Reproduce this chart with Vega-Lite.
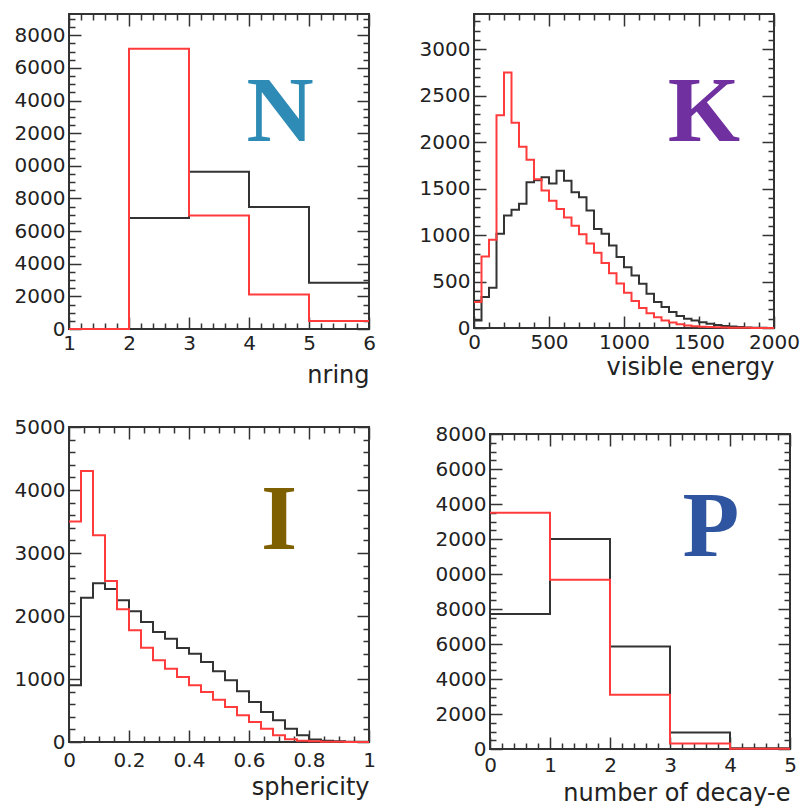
{
  "$schema": "https://vega.github.io/schema/vega-lite/v6.json",
  "padding": {"left": 13, "top": 7, "right": 0, "bottom": 0},
  "background": "white",
  "columns": 2,
  "align": "none",
  "spacing": {"row": 28, "column": 41},
  "config": {
    "view": {"stroke": "#333", "strokeWidth": 2},
    "axis": {
      "labelFont": "DejaVu Sans", "labelFontSize": 20, "labelColor": "#222",
      "titleFont": "DejaVu Sans", "titleFontSize": 24, "titleFontWeight": "normal", "titleColor": "#222",
      "tickColor": "#333", "tickWidth": 1.5, "domain": false, "grid": false,
      "labelFlush": false, "labelOverlap": false
    },
    "line": {"strokeWidth": 2, "interpolate": "step-after"}
  },
  "concat": [
    {
      "width": 300, "height": 315,
      "layer": [
        {
          "data": {"values": [
            {"x": 1, "v": 0, "s": "black"}, {"x": 2, "v": 6800, "s": "black"}, {"x": 3, "v": 9630, "s": "black"}, {"x": 4, "v": 7470, "s": "black"}, {"x": 5, "v": 2840, "s": "black"}, {"x": 6, "v": 2840, "s": "black"},
            {"x": 1, "v": 0, "s": "red"}, {"x": 2, "v": 17170, "s": "red"}, {"x": 3, "v": 6960, "s": "red"}, {"x": 4, "v": 2120, "s": "red"}, {"x": 5, "v": 490, "s": "red"}, {"x": 6, "v": 490, "s": "red"}
          ]},
          "mark": {"type": "line"},
          "encoding": {
            "x": {"field": "x", "type": "quantitative", "scale": {"domain": [1, 6], "nice": false, "zero": false},
              "axis": {"orient": "bottom", "title": "nring", "titleAnchor": "end", "titlePadding": 4,
                "values": [1,1.2,1.4,1.6,1.8,2,2.2,2.4,2.6,2.8,3,3.2,3.4,3.6,3.8,4,4.2,4.4,4.6,4.8,5,5.2,5.4,5.6,5.8,6],
                "labelExpr": "indexof([1,2,3,4,5,6], datum.value) >= 0 ? toString(datum.value) : ''",
                "tickSize": {"condition": {"test": "indexof([1,2,3,4,5,6], datum.value) >= 0", "value": -12}, "value": -6},
                "labelPadding": 16}},
            "y": {"field": "v", "type": "quantitative", "scale": {"domain": [0, 19300], "nice": false},
              "axis": {"orient": "left", "title": null,
                "values": [0,500,1000,1500,2000,2500,3000,3500,4000,4500,5000,5500,6000,6500,7000,7500,8000,8500,9000,9500,10000,10500,11000,11500,12000,12500,13000,13500,14000,14500,15000,15500,16000,16500,17000,17500,18000,18500,19000],
                "labelExpr": "datum.value % 2000 === 0 ? (datum.value >= 10000 ? slice(toString(datum.value), 1) : toString(datum.value)) : ''",
                "tickSize": {"condition": {"test": "datum.value % 2000 === 0", "value": -12}, "value": -6},
                "labelPadding": 16}},
            "color": {"field": "s", "type": "nominal", "scale": {"domain": ["black", "red"], "range": ["#333333", "#ff3b3b"]}, "legend": null}
          }
        },
        {
          "data": {"values": [{"x": 4.52, "v": 11500, "t": "N"}]},
          "mark": {"type": "text", "font": "Liberation Serif", "fontWeight": "bold", "fontSize": 93, "color": "#2E8BB5", "align": "center", "baseline": "alphabetic"},
          "encoding": {
            "x": {"field": "x", "type": "quantitative", "scale": {"domain": [1, 6], "nice": false, "zero": false},
              "axis": {"orient": "top", "title": null, "labels": false,
                "values": [1,1.2,1.4,1.6,1.8,2,2.2,2.4,2.6,2.8,3,3.2,3.4,3.6,3.8,4,4.2,4.4,4.6,4.8,5,5.2,5.4,5.6,5.8,6],
                "tickSize": {"condition": {"test": "indexof([1,2,3,4,5,6], datum.value) >= 0", "value": -12}, "value": -6}}},
            "y": {"field": "v", "type": "quantitative", "scale": {"domain": [0, 19300], "nice": false},
              "axis": {"orient": "right", "title": null, "labels": false,
                "values": [0,500,1000,1500,2000,2500,3000,3500,4000,4500,5000,5500,6000,6500,7000,7500,8000,8500,9000,9500,10000,10500,11000,11500,12000,12500,13000,13500,14000,14500,15000,15500,16000,16500,17000,17500,18000,18500,19000],
                "tickSize": {"condition": {"test": "datum.value % 2000 === 0", "value": -12}, "value": -6}}},
            "text": {"field": "t"}
          }
        }
      ],
      "resolve": {"axis": {"x": "independent", "y": "independent"}}
    },
    {
      "width": 300, "height": 314,
      "layer": [
        {
          "data": {"values": [
            {"x": 0, "v": 80, "s": "black"}, {"x": 50, "v": 333, "s": "black"}, {"x": 100, "v": 434, "s": "black"}, {"x": 150, "v": 1014, "s": "black"}, {"x": 200, "v": 1210, "s": "black"}, {"x": 250, "v": 1273, "s": "black"}, {"x": 300, "v": 1337, "s": "black"}, {"x": 350, "v": 1568, "s": "black"}, {"x": 400, "v": 1590, "s": "black"}, {"x": 450, "v": 1622, "s": "black"},
            {"x": 500, "v": 1555, "s": "black"}, {"x": 550, "v": 1694, "s": "black"}, {"x": 600, "v": 1586, "s": "black"}, {"x": 650, "v": 1461, "s": "black"}, {"x": 700, "v": 1407, "s": "black"}, {"x": 750, "v": 1264, "s": "black"}, {"x": 800, "v": 1067, "s": "black"}, {"x": 850, "v": 1014, "s": "black"}, {"x": 900, "v": 888, "s": "black"}, {"x": 950, "v": 763, "s": "black"},
            {"x": 1000, "v": 655, "s": "black"}, {"x": 1050, "v": 566, "s": "black"}, {"x": 1100, "v": 477, "s": "black"}, {"x": 1150, "v": 369, "s": "black"}, {"x": 1200, "v": 279, "s": "black"}, {"x": 1250, "v": 226, "s": "black"}, {"x": 1300, "v": 172, "s": "black"}, {"x": 1350, "v": 130, "s": "black"}, {"x": 1400, "v": 100, "s": "black"}, {"x": 1450, "v": 80, "s": "black"},
            {"x": 1500, "v": 62, "s": "black"}, {"x": 1550, "v": 45, "s": "black"}, {"x": 1600, "v": 32, "s": "black"}, {"x": 1650, "v": 22, "s": "black"}, {"x": 1700, "v": 15, "s": "black"}, {"x": 1750, "v": 10, "s": "black"}, {"x": 1800, "v": 6, "s": "black"}, {"x": 1850, "v": 4, "s": "black"}, {"x": 1900, "v": 2, "s": "black"}, {"x": 1950, "v": 1, "s": "black"}, {"x": 2000, "v": 1, "s": "black"},
            {"x": 0, "v": 280, "s": "red"}, {"x": 50, "v": 770, "s": "red"}, {"x": 100, "v": 950, "s": "red"}, {"x": 150, "v": 2290, "s": "red"}, {"x": 200, "v": 2750, "s": "red"}, {"x": 250, "v": 2210, "s": "red"}, {"x": 300, "v": 1950, "s": "red"}, {"x": 350, "v": 1810, "s": "red"}, {"x": 400, "v": 1600, "s": "red"}, {"x": 450, "v": 1480, "s": "red"},
            {"x": 500, "v": 1370, "s": "red"}, {"x": 550, "v": 1280, "s": "red"}, {"x": 600, "v": 1190, "s": "red"}, {"x": 650, "v": 1100, "s": "red"}, {"x": 700, "v": 1010, "s": "red"}, {"x": 750, "v": 910, "s": "red"}, {"x": 800, "v": 810, "s": "red"}, {"x": 850, "v": 700, "s": "red"}, {"x": 900, "v": 590, "s": "red"}, {"x": 950, "v": 480, "s": "red"},
            {"x": 1000, "v": 380, "s": "red"}, {"x": 1050, "v": 290, "s": "red"}, {"x": 1100, "v": 215, "s": "red"}, {"x": 1150, "v": 160, "s": "red"}, {"x": 1200, "v": 115, "s": "red"}, {"x": 1250, "v": 82, "s": "red"}, {"x": 1300, "v": 58, "s": "red"}, {"x": 1350, "v": 40, "s": "red"}, {"x": 1400, "v": 28, "s": "red"}, {"x": 1450, "v": 20, "s": "red"},
            {"x": 1500, "v": 14, "s": "red"}, {"x": 1550, "v": 10, "s": "red"}, {"x": 1600, "v": 7, "s": "red"}, {"x": 1650, "v": 5, "s": "red"}, {"x": 1700, "v": 4, "s": "red"}, {"x": 1750, "v": 3, "s": "red"}, {"x": 1800, "v": 2, "s": "red"}, {"x": 1850, "v": 1, "s": "red"}, {"x": 1900, "v": 1, "s": "red"}, {"x": 1950, "v": 1, "s": "red"}, {"x": 2000, "v": 1, "s": "red"}
          ]},
          "mark": {"type": "line"},
          "encoding": {
            "x": {"field": "x", "type": "quantitative", "scale": {"domain": [0, 2000], "nice": false},
              "axis": {"orient": "bottom", "title": "visible energy", "titleAnchor": "end", "titlePadding": -3,
                "values": [0,100,200,300,400,500,600,700,800,900,1000,1100,1200,1300,1400,1500,1600,1700,1800,1900,2000],
                "labelExpr": "datum.value % 500 === 0 ? toString(datum.value) : ''",
                "tickSize": {"condition": {"test": "datum.value % 500 === 0", "value": -12}, "value": -6},
                "labelPadding": 16}},
            "y": {"field": "v", "type": "quantitative", "scale": {"domain": [0, 3380], "nice": false},
              "axis": {"orient": "left", "title": null,
                "values": [0,100,200,300,400,500,600,700,800,900,1000,1100,1200,1300,1400,1500,1600,1700,1800,1900,2000,2100,2200,2300,2400,2500,2600,2700,2800,2900,3000,3100,3200,3300],
                "labelExpr": "datum.value % 500 === 0 ? toString(datum.value) : ''",
                "tickSize": {"condition": {"test": "datum.value % 500 === 0", "value": -12}, "value": -6},
                "labelPadding": 16}},
            "color": {"field": "s", "type": "nominal", "scale": {"domain": ["black", "red"], "range": ["#333333", "#ff3b3b"]}, "legend": null}
          }
        },
        {
          "data": {"values": [{"x": 1533, "v": 2012, "t": "K"}]},
          "mark": {"type": "text", "font": "Liberation Serif", "fontWeight": "bold", "fontSize": 93, "color": "#7030A0", "align": "center", "baseline": "alphabetic"},
          "encoding": {
            "x": {"field": "x", "type": "quantitative", "scale": {"domain": [0, 2000], "nice": false},
              "axis": {"orient": "top", "title": null, "labels": false,
                "values": [0,100,200,300,400,500,600,700,800,900,1000,1100,1200,1300,1400,1500,1600,1700,1800,1900,2000],
                "tickSize": {"condition": {"test": "datum.value % 500 === 0", "value": -12}, "value": -6}}},
            "y": {"field": "v", "type": "quantitative", "scale": {"domain": [0, 3380], "nice": false},
              "axis": {"orient": "right", "title": null, "labels": false,
                "values": [0,100,200,300,400,500,600,700,800,900,1000,1100,1200,1300,1400,1500,1600,1700,1800,1900,2000,2100,2200,2300,2400,2500,2600,2700,2800,2900,3000,3100,3200,3300],
                "tickSize": {"condition": {"test": "datum.value % 500 === 0", "value": -12}, "value": -6}}},
            "text": {"field": "t"}
          }
        }
      ],
      "resolve": {"axis": {"x": "independent", "y": "independent"}}
    },
    {
      "width": 300, "height": 315,
      "layer": [
        {
          "data": {"values": [
            {"x": 0, "v": 900, "s": "black"}, {"x": 0.04, "v": 2290, "s": "black"}, {"x": 0.08, "v": 2520, "s": "black"}, {"x": 0.12, "v": 2430, "s": "black"}, {"x": 0.16, "v": 2250, "s": "black"}, {"x": 0.2, "v": 2074, "s": "black"}, {"x": 0.24, "v": 1905, "s": "black"}, {"x": 0.28, "v": 1746, "s": "black"}, {"x": 0.32, "v": 1640, "s": "black"}, {"x": 0.36, "v": 1492, "s": "black"},
            {"x": 0.4, "v": 1402, "s": "black"}, {"x": 0.44, "v": 1270, "s": "black"}, {"x": 0.48, "v": 1122, "s": "black"}, {"x": 0.52, "v": 979, "s": "black"}, {"x": 0.56, "v": 804, "s": "black"}, {"x": 0.6, "v": 635, "s": "black"}, {"x": 0.64, "v": 476, "s": "black"}, {"x": 0.68, "v": 344, "s": "black"}, {"x": 0.72, "v": 212, "s": "black"}, {"x": 0.76, "v": 106, "s": "black"},
            {"x": 0.8, "v": 40, "s": "black"}, {"x": 0.84, "v": 20, "s": "black"}, {"x": 0.88, "v": 10, "s": "black"}, {"x": 0.92, "v": 5, "s": "black"}, {"x": 0.96, "v": 2, "s": "black"}, {"x": 1, "v": 2, "s": "black"},
            {"x": 0, "v": 3500, "s": "red"}, {"x": 0.04, "v": 4300, "s": "red"}, {"x": 0.08, "v": 3280, "s": "red"}, {"x": 0.12, "v": 2556, "s": "red"}, {"x": 0.16, "v": 2106, "s": "red"}, {"x": 0.2, "v": 1772, "s": "red"}, {"x": 0.24, "v": 1497, "s": "red"}, {"x": 0.28, "v": 1296, "s": "red"}, {"x": 0.32, "v": 1164, "s": "red"}, {"x": 0.36, "v": 1032, "s": "red"},
            {"x": 0.4, "v": 899, "s": "red"}, {"x": 0.44, "v": 794, "s": "red"}, {"x": 0.48, "v": 672, "s": "red"}, {"x": 0.52, "v": 556, "s": "red"}, {"x": 0.56, "v": 423, "s": "red"}, {"x": 0.6, "v": 317, "s": "red"}, {"x": 0.64, "v": 212, "s": "red"}, {"x": 0.68, "v": 106, "s": "red"}, {"x": 0.72, "v": 42, "s": "red"}, {"x": 0.76, "v": 20, "s": "red"},
            {"x": 0.8, "v": 10, "s": "red"}, {"x": 0.84, "v": 5, "s": "red"}, {"x": 0.88, "v": 3, "s": "red"}, {"x": 0.92, "v": 1, "s": "red"}, {"x": 0.96, "v": 1, "s": "red"}, {"x": 1, "v": 1, "s": "red"}
          ]},
          "mark": {"type": "line"},
          "encoding": {
            "x": {"field": "x", "type": "quantitative", "scale": {"domain": [0, 1], "nice": false},
              "axis": {"orient": "bottom", "title": "sphericity", "titleAnchor": "end", "titlePadding": -1,
                "values": [0,0.05,0.1,0.15,0.2,0.25,0.3,0.35,0.4,0.45,0.5,0.55,0.6,0.65,0.7,0.75,0.8,0.85,0.9,0.95,1],
                "labelExpr": "indexof([0,0.2,0.4,0.6,0.8,1], datum.value) >= 0 ? toString(datum.value) : ''",
                "tickSize": {"condition": {"test": "indexof([0,0.2,0.4,0.6,0.8,1], datum.value) >= 0", "value": -12}, "value": -6},
                "labelPadding": 20}},
            "y": {"field": "v", "type": "quantitative", "scale": {"domain": [0, 5000], "nice": false},
              "axis": {"orient": "left", "title": null,
                "values": [0,200,400,600,800,1000,1200,1400,1600,1800,2000,2200,2400,2600,2800,3000,3200,3400,3600,3800,4000,4200,4400,4600,4800,5000],
                "labelExpr": "datum.value % 1000 === 0 ? toString(datum.value) : ''",
                "tickSize": {"condition": {"test": "datum.value % 1000 === 0", "value": -12}, "value": -6},
                "labelPadding": 16}},
            "color": {"field": "s", "type": "nominal", "scale": {"domain": ["black", "red"], "range": ["#333333", "#ff3b3b"]}, "legend": null}
          }
        },
        {
          "data": {"values": [{"x": 0.7, "v": 3063, "t": "I"}]},
          "mark": {"type": "text", "font": "Liberation Serif", "fontWeight": "bold", "fontSize": 93, "color": "#7F6000", "align": "center", "baseline": "alphabetic"},
          "encoding": {
            "x": {"field": "x", "type": "quantitative", "scale": {"domain": [0, 1], "nice": false},
              "axis": {"orient": "top", "title": null, "labels": false,
                "values": [0,0.05,0.1,0.15,0.2,0.25,0.3,0.35,0.4,0.45,0.5,0.55,0.6,0.65,0.7,0.75,0.8,0.85,0.9,0.95,1],
                "tickSize": {"condition": {"test": "indexof([0,0.2,0.4,0.6,0.8,1], datum.value) >= 0", "value": -12}, "value": -6}}},
            "y": {"field": "v", "type": "quantitative", "scale": {"domain": [0, 5000], "nice": false},
              "axis": {"orient": "right", "title": null, "labels": false,
                "values": [0,200,400,600,800,1000,1200,1400,1600,1800,2000,2200,2400,2600,2800,3000,3200,3400,3600,3800,4000,4200,4400,4600,4800,5000],
                "tickSize": {"condition": {"test": "datum.value % 1000 === 0", "value": -12}, "value": -6}}},
            "text": {"field": "t"}
          }
        }
      ],
      "resolve": {"axis": {"x": "independent", "y": "independent"}}
    },
    {
      "width": 300, "height": 315,
      "title": {"text": "P", "color": "transparent", "fontSize": 7, "offset": 0},
      "layer": [
        {
          "data": {"values": [
            {"x": 0, "v": 7710, "s": "black"}, {"x": 1, "v": 12000, "s": "black"}, {"x": 2, "v": 5860, "s": "black"}, {"x": 3, "v": 950, "s": "black"}, {"x": 4, "v": 40, "s": "black"}, {"x": 5, "v": 40, "s": "black"},
            {"x": 0, "v": 13500, "s": "red"}, {"x": 1, "v": 9670, "s": "red"}, {"x": 2, "v": 3100, "s": "red"}, {"x": 3, "v": 320, "s": "red"}, {"x": 4, "v": 20, "s": "red"}, {"x": 5, "v": 20, "s": "red"}
          ]},
          "mark": {"type": "line"},
          "encoding": {
            "x": {"field": "x", "type": "quantitative", "scale": {"domain": [0, 5], "nice": false},
              "axis": {"orient": "bottom", "title": "number of decay-e", "titleAnchor": "end", "titlePadding": 0,
                "values": [0,0.2,0.4,0.6,0.8,1,1.2,1.4,1.6,1.8,2,2.2,2.4,2.6,2.8,3,3.2,3.4,3.6,3.8,4,4.2,4.4,4.6,4.8,5],
                "labelExpr": "indexof([0,1,2,3,4,5], datum.value) >= 0 ? toString(datum.value) : ''",
                "tickSize": {"condition": {"test": "indexof([0,1,2,3,4,5], datum.value) >= 0", "value": -12}, "value": -6},
                "labelPadding": 18}},
            "y": {"field": "v", "type": "quantitative", "scale": {"domain": [0, 18000], "nice": false},
              "axis": {"orient": "left", "title": "y", "titleColor": "transparent", "titleFontSize": 10, "titlePadding": 6,
                "values": [0,500,1000,1500,2000,2500,3000,3500,4000,4500,5000,5500,6000,6500,7000,7500,8000,8500,9000,9500,10000,10500,11000,11500,12000,12500,13000,13500,14000,14500,15000,15500,16000,16500,17000,17500,18000],
                "labelExpr": "datum.value % 2000 === 0 ? (datum.value >= 10000 ? slice(toString(datum.value), 1) : toString(datum.value)) : ''",
                "tickSize": {"condition": {"test": "datum.value % 2000 === 0", "value": -12}, "value": -6},
                "labelPadding": 16}},
            "color": {"field": "s", "type": "nominal", "scale": {"domain": ["black", "red"], "range": ["#333333", "#ff3b3b"]}, "legend": null}
          }
        },
        {
          "data": {"values": [{"x": 3.68, "v": 11029, "t": "P"}]},
          "mark": {"type": "text", "font": "Liberation Serif", "fontWeight": "bold", "fontSize": 93, "color": "#2F55A0", "align": "center", "baseline": "alphabetic"},
          "encoding": {
            "x": {"field": "x", "type": "quantitative", "scale": {"domain": [0, 5], "nice": false},
              "axis": {"orient": "top", "title": null, "labels": false,
                "values": [0,0.2,0.4,0.6,0.8,1,1.2,1.4,1.6,1.8,2,2.2,2.4,2.6,2.8,3,3.2,3.4,3.6,3.8,4,4.2,4.4,4.6,4.8,5],
                "tickSize": {"condition": {"test": "indexof([0,1,2,3,4,5], datum.value) >= 0", "value": -12}, "value": -6}}},
            "y": {"field": "v", "type": "quantitative", "scale": {"domain": [0, 18000], "nice": false},
              "axis": {"orient": "right", "title": null, "labels": false,
                "values": [0,500,1000,1500,2000,2500,3000,3500,4000,4500,5000,5500,6000,6500,7000,7500,8000,8500,9000,9500,10000,10500,11000,11500,12000,12500,13000,13500,14000,14500,15000,15500,16000,16500,17000,17500,18000],
                "tickSize": {"condition": {"test": "datum.value % 2000 === 0", "value": -12}, "value": -6}}},
            "text": {"field": "t"}
          }
        }
      ],
      "resolve": {"axis": {"x": "independent", "y": "independent"}}
    }
  ]
}
